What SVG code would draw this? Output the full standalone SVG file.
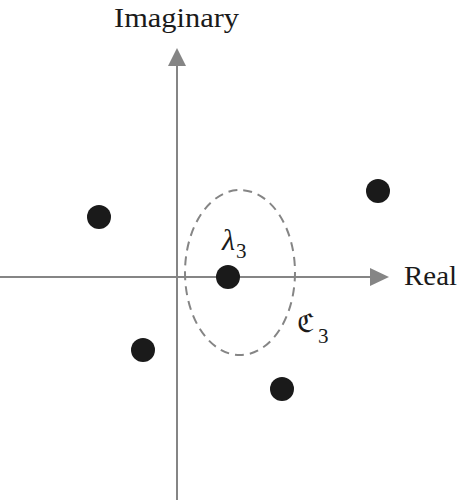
<svg xmlns="http://www.w3.org/2000/svg" width="458" height="500" viewBox="0 0 458 500">
<style>
.ax{stroke:#858585;stroke-width:2;fill:none}
.hd{fill:#858585}
.dot{fill:#1a1a1a}
.t{font-family:"Liberation Serif","DejaVu Serif",serif;fill:#1a1a1a}
</style>
<rect width="458" height="500" fill="#fff"/>
<g id="connectors">
<line class="ax" x1="177" y1="64" x2="177" y2="500"/>
<polygon class="hd" points="177,48 168,66 186,66"/>
<line class="ax" x1="0" y1="277" x2="372" y2="277"/>
<polygon class="hd" points="389,277 370,268 370,286"/>
</g>
<g id="contour">
<ellipse cx="240" cy="272.5" rx="55" ry="82.5" fill="none" stroke="#858585" stroke-width="2" stroke-dasharray="9,6"/>
</g>
<g id="p1"><circle class="dot" cx="99" cy="217" r="12"/></g>
<g id="p2"><circle class="dot" cx="378" cy="191" r="12"/></g>
<g id="p3"><circle class="dot" cx="228" cy="277" r="12"/></g>
<g id="p4"><circle class="dot" cx="143" cy="350" r="12"/></g>
<g id="p5"><circle class="dot" cx="282" cy="389" r="12"/></g>
<g id="labels">
<text class="t" x="114" y="27" font-size="28" textLength="125" lengthAdjust="spacingAndGlyphs">Imaginary</text>
<text class="t" x="404" y="285" font-size="28" textLength="53" lengthAdjust="spacingAndGlyphs">Real</text>
<text class="t" x="222" y="250" font-size="30" font-style="italic">λ<tspan font-size="21" font-style="normal" dy="8" dx="1">3</tspan></text>
<text class="t" x="297" y="332" font-size="26">ℭ<tspan font-size="21" dy="11" dx="4">3</tspan></text>
</g>
</svg>
